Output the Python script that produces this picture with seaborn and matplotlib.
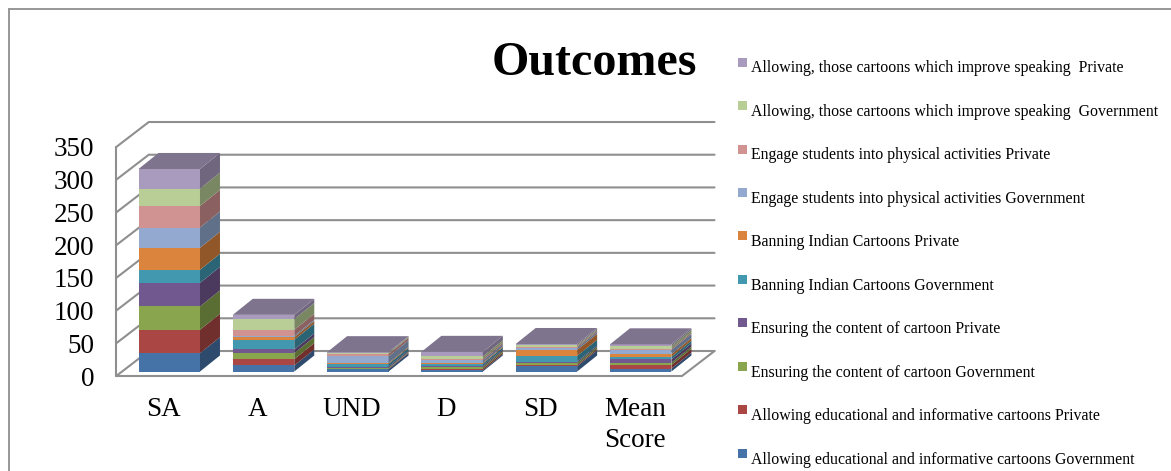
import numpy as np
import matplotlib
matplotlib.use("Agg")
import matplotlib.pyplot as plt
from matplotlib.lines import Line2D
from matplotlib.legend_handler import HandlerPatch
from matplotlib.patches import Polygon, Rectangle
from matplotlib.transforms import Affine2D
import seaborn as sns

categories = ["SA", "A", "UND", "D", "SD", "Mean\nScore"]

educational_gov = [28, 9.2, 3.5, 2, 8, 4.5]
educational_pvt = [35.7, 9.7, 1, 2.5, 2, 5.5]
content_gov = [35.7, 9.2, 1, 2.5, 3, 3.5]
content_pvt = [36, 5.6, 2, 2, 2, 5]
banning_gov = [20, 14.8, 4, 3, 9, 4]
banning_pvt = [33.6, 4, 1.5, 1.5, 9, 4]
physical_gov = [31, 2, 10, 3.5, 3, 6.5]
physical_pvt = [33, 9.2, 4, 2.5, 2, 2]
speaking_gov = [26.5, 16.3, 1.5, 3.5, 2, 4]
speaking_pvt = [30, 6.6, 1, 7, 2, 2.5]

series = [
    ("Allowing educational and informative cartoons Government", educational_gov, "#4572A7"),
    ("Allowing educational and informative cartoons Private", educational_pvt, "#AA4643"),
    ("Ensuring the content of cartoon Government", content_gov, "#89A54E"),
    ("Ensuring the content of cartoon Private", content_pvt, "#71588F"),
    ("Banning Indian Cartoons Government", banning_gov, "#4198AF"),
    ("Banning Indian Cartoons Private", banning_pvt, "#DB843D"),
    ("Engage students into physical activities Government", physical_gov, "#93A9CF"),
    ("Engage students into physical activities Private", physical_pvt, "#D19392"),
    ("Allowing, those cartoons which improve speaking  Government", speaking_gov, "#B9CD96"),
    ("Allowing, those cartoons which improve speaking  Private", speaking_pvt, "#A99BBD"),
]

W, H, DPI = 1171, 471, 100
WALL = "#8f8f8f"
BAR_WIDTH = 0.652
# Oblique projection, in category units and value units
WALL_DX, WALL_DY = 0.345, 38.2
BAR_DX, BAR_DY = 0.212, 24.5


def shade(color, factor):
    return tuple(c * factor for c in matplotlib.colors.to_rgb(color))


class RaisedSquare(HandlerPatch):
    """Small square key that sits above the text's centre line."""

    def create_artists(self, legend, orig, xd, yd, width, height, fontsize, trans):
        box = Rectangle((-xd, -yd + 4.0), 6.5, 6.5,
                        facecolor=orig.get_facecolor(), edgecolor="none", transform=trans)
        return [box]


sns.set_theme(style="white")
plt.rcParams["font.family"] = ["Liberation Serif", "DejaVu Serif"]

fig = plt.figure(figsize=(W / DPI, H / DPI), dpi=DPI)
ax = fig.add_axes([116.25 / W, 1 - 376 / H, 565.75 / W, 229 / H])

# Bars stand in a plane slightly behind the front edge of the floor
bar_plane = ax.transData + Affine2D().translate(5.85, 4.5)

bottoms = np.zeros(len(categories))
for name, values, color in series:
    values = np.asarray(values, dtype=float)
    before = len(ax.patches)
    sns.barplot(x=categories, y=values, bottom=bottoms, color=color, saturation=1,
                width=BAR_WIDTH, errorbar=None, linewidth=0, ax=ax, zorder=3)
    for patch in ax.patches[before:]:
        patch.set_transform(bar_plane)
        patch.set_clip_on(False)
    for i, (v, b) in enumerate(zip(values, bottoms)):
        right = i + BAR_WIDTH / 2
        side = Polygon([(right, b), (right, b + v),
                        (right + BAR_DX, b + v + BAR_DY), (right + BAR_DX, b + BAR_DY)],
                       closed=True, facecolor=shade(color, 0.66), edgecolor="none",
                       transform=bar_plane, clip_on=False, zorder=3)
        ax.add_artist(side)
    bottoms = bottoms + values

# Lids take the colour of the uppermost series, dimmed
top_color = series[-1][2]
for i, total in enumerate(bottoms):
    left, right = i - BAR_WIDTH / 2, i + BAR_WIDTH / 2
    lid = Polygon([(left, total), (right, total),
                   (right + BAR_DX, total + BAR_DY), (left + BAR_DX, total + BAR_DY)],
                  closed=True, facecolor=shade(top_color, 0.75), edgecolor="none",
                  transform=bar_plane, clip_on=False, zorder=3)
    ax.add_artist(lid)

ax.set_xlim(-0.5, 5.5)
ax.set_ylim(0, 350)
yticks = np.arange(0, 351, 50)

# Back wall, side wall and floor outline
line_style = dict(color=WALL, lw=1.5, clip_on=False, zorder=1, solid_capstyle="round")
for y in yticks:
    ax.plot([-0.5, -0.5 + WALL_DX, 5.5 + WALL_DX], [y, y + WALL_DY, y + WALL_DY], **line_style)
ax.plot([-0.5, -0.5], [0, 350], **line_style)
ax.plot([-0.5, 5.5, 5.5 + WALL_DX], [0, 0, WALL_DY], **line_style)

sns.despine(ax=ax, left=True, bottom=True)
ax.set_yticks(yticks)
ax.tick_params(axis="y", length=0, pad=16, labelsize=19.5, colors="black")
ax.tick_params(axis="x", length=0, pad=15, labelsize=19.5, colors="black")
ax.set_xlabel("")
ax.set_ylabel("")
ax.grid(False)
ax.patch.set_alpha(0)
for label in ax.get_xticklabels():
    label.set_linespacing(1.3)
    label.set_va("top")

fig.text(594 / W, 1 - 63 / H, "Outcomes", fontsize=34.6, fontweight="bold",
         ha="center", va="center", color="black")

# Figure frame: top and left edges
frame = dict(color="#8f8f8f", lw=1.3, transform=fig.transFigure)
fig.add_artist(Line2D([9 / W, 9 / W], [0, 1 - 8.5 / H], **frame))
fig.add_artist(Line2D([9 / W, 1], [1 - 8.5 / H, 1 - 8.5 / H], **frame))

handles = [Rectangle((0, 0), 1, 1, facecolor=c) for _, _, c in reversed(series)]
labels = [n for n, _, _ in reversed(series)]
fig.legend(handles, labels, loc="upper left",
           bbox_to_anchor=(738 / W, 1 - 60.5 / H), borderaxespad=0, borderpad=0,
           frameon=False, fontsize=11.45, labelcolor="black",
           handlelength=0.56, handleheight=0.65, handletextpad=0.25, labelspacing=1.726,
           handler_map={Rectangle: RaisedSquare()})

fig.savefig("out.png", dpi=DPI, facecolor="white")
